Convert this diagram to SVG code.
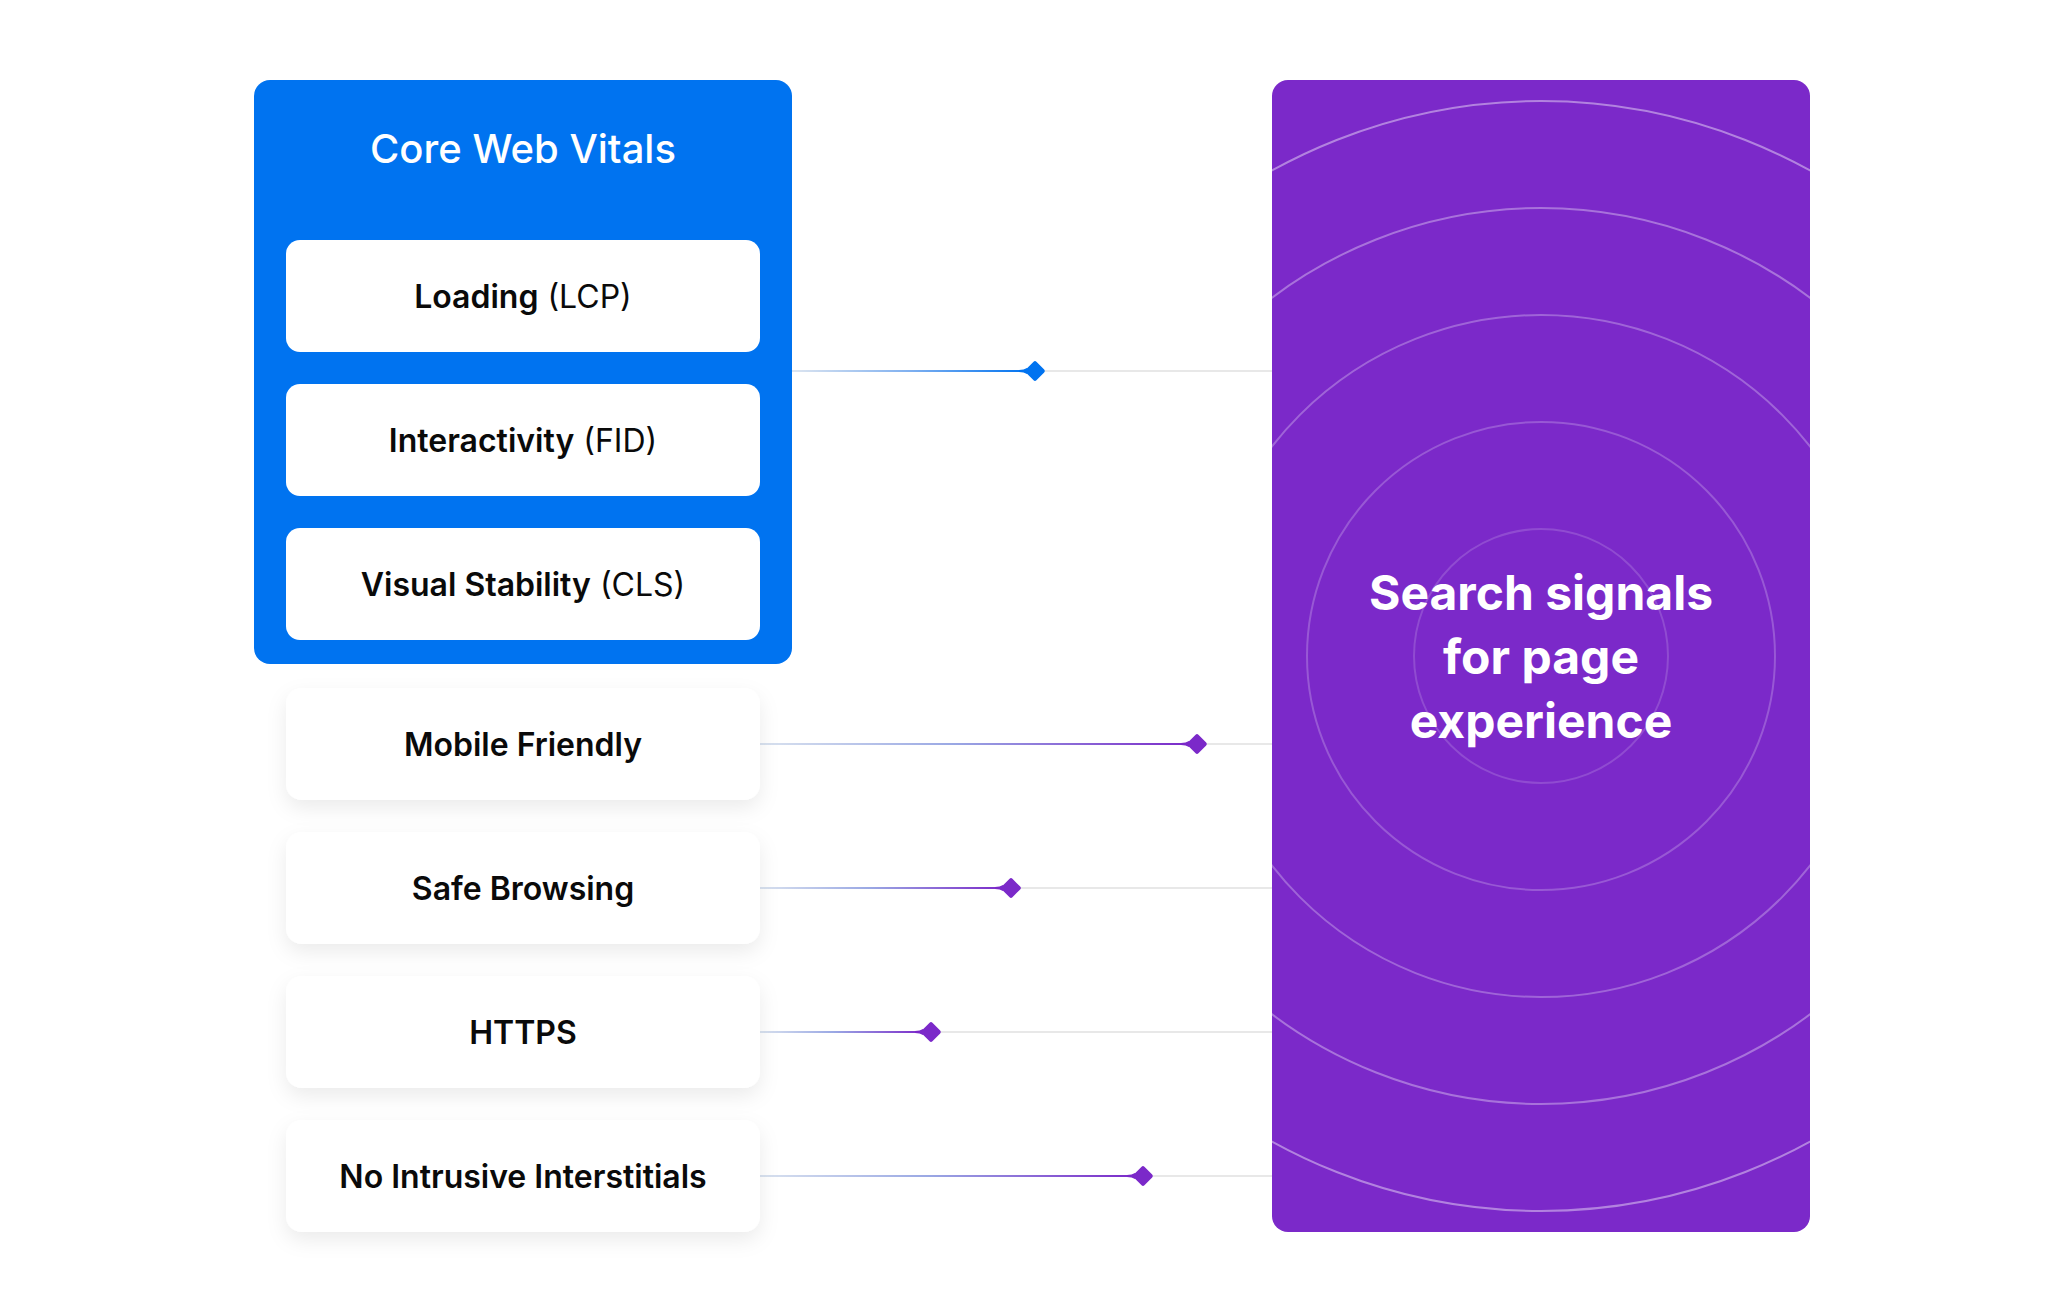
<svg xmlns="http://www.w3.org/2000/svg" width="2062" height="1312" viewBox="0 0 2062 1312">
  <style>
    .lbl { font-family: Inter, "Liberation Sans", sans-serif; font-size: 32px; fill: #0a0a0a; text-anchor: middle; }
    .b { font-weight: 600; }
    .r { font-weight: 400; }
    .title { font-family: Inter, "Liberation Sans", sans-serif; font-size: 40px; font-weight: 500; fill: #ffffff; text-anchor: middle; }
    .big { font-family: Inter, "Liberation Sans", sans-serif; font-size: 48px; font-weight: 700; fill: #ffffff; text-anchor: middle; }
    .inner { fill: #ffffff; }
    .card { fill: #ffffff; filter: url(#shadow); }
    .ring { fill: none; stroke: #ffffff; stroke-width: 2; }
    .track { fill: #e8e8e8; }
  </style>
  <defs>
    <filter id="shadow" x="-20%" y="-40%" width="140%" height="190%">
      <feDropShadow dx="0" dy="8" stdDeviation="10" flood-color="#000000" flood-opacity="0.08"/>
    </filter>
    <linearGradient id="gBlue" x1="0" y1="0" x2="1" y2="0">
      <stop offset="0" stop-color="#dde5f0"/>
      <stop offset="0.5" stop-color="#7fb0f0"/>
      <stop offset="1" stop-color="#0073f0"/>
    </linearGradient>
    <linearGradient id="gPurple" x1="0" y1="0" x2="1" y2="0">
      <stop offset="0" stop-color="#d9e2ef"/>
      <stop offset="0.45" stop-color="#9aa8e4"/>
      <stop offset="1" stop-color="#7b29c9"/>
    </linearGradient>
    <clipPath id="pclip">
      <rect x="1272" y="80" width="538" height="1152" rx="16"/>
    </clipPath>
  </defs>

  <rect width="2062" height="1312" fill="#ffffff"/>

  <!-- connectors -->
  <g id="connectors">
    <g id="c-lcp">
      <rect class="track" x="792" y="370" width="480" height="2"/>
      <rect x="792" y="370" width="236" height="2" fill="url(#gBlue)"/>
      <path d="M1019 370 Q1024 370 1027 368 L1027 374 Q1024 372 1019 372 Z" fill="#0073f0"/>
      <rect x="1027.5" y="363.5" width="15" height="15" rx="2" transform="rotate(45 1035 371)" fill="#0073f0"/>
    </g>
    <g id="c-mobile">
      <rect class="track" x="760" y="743" width="512" height="2"/>
      <rect x="760" y="743" width="430" height="2" fill="url(#gPurple)"/>
      <path d="M1181 743 Q1186 743 1189 741 L1189 747 Q1186 745 1181 745 Z" fill="#7b29c9"/>
      <rect x="1189.5" y="736.5" width="15" height="15" rx="2" transform="rotate(45 1197 744)" fill="#7b29c9"/>
    </g>
    <g id="c-safe">
      <rect class="track" x="760" y="887" width="512" height="2"/>
      <rect x="760" y="887" width="244" height="2" fill="url(#gPurple)"/>
      <path d="M995 887 Q1000 887 1003 885 L1003 891 Q1000 889 995 889 Z" fill="#7b29c9"/>
      <rect x="1003.5" y="880.5" width="15" height="15" rx="2" transform="rotate(45 1011 888)" fill="#7b29c9"/>
    </g>
    <g id="c-https">
      <rect class="track" x="760" y="1031" width="512" height="2"/>
      <rect x="760" y="1031" width="164" height="2" fill="url(#gPurple)"/>
      <path d="M915 1031 Q920 1031 923 1029 L923 1035 Q920 1033 915 1033 Z" fill="#7b29c9"/>
      <rect x="923.5" y="1024.5" width="15" height="15" rx="2" transform="rotate(45 931 1032)" fill="#7b29c9"/>
    </g>
    <g id="c-nii">
      <rect class="track" x="760" y="1175" width="512" height="2"/>
      <rect x="760" y="1175" width="376" height="2" fill="url(#gPurple)"/>
      <path d="M1127 1175 Q1132 1175 1135 1173 L1135 1179 Q1132 1177 1127 1177 Z" fill="#7b29c9"/>
      <rect x="1135.5" y="1168.5" width="15" height="15" rx="2" transform="rotate(45 1143 1176)" fill="#7b29c9"/>
    </g>
  </g>

  <!-- Core Web Vitals group -->
  <g id="core-web-vitals">
    <rect x="254" y="80" width="538" height="584" rx="16" fill="#0073f0"/>
    <text class="title" x="523" y="163">Core Web Vitals</text>
  </g>
  <g id="node-lcp">
    <rect class="inner" x="286" y="240" width="474" height="112" rx="14"/>
    <text class="lbl" x="523" y="308"><tspan class="b">Loading</tspan><tspan class="r"> (LCP)</tspan></text>
  </g>
  <g id="node-fid">
    <rect class="inner" x="286" y="384" width="474" height="112" rx="14"/>
    <text class="lbl" x="523" y="452"><tspan class="b">Interactivity</tspan><tspan class="r"> (FID)</tspan></text>
  </g>
  <g id="node-cls">
    <rect class="inner" x="286" y="528" width="474" height="112" rx="14"/>
    <text class="lbl" x="523" y="596"><tspan class="b">Visual Stability</tspan><tspan class="r"> (CLS)</tspan></text>
  </g>

  <!-- other signals -->
  <g id="node-mobile">
    <rect class="card" x="286" y="688" width="474" height="112" rx="16"/>
    <text class="lbl b" x="523" y="756">Mobile Friendly</text>
  </g>
  <g id="node-safe">
    <rect class="card" x="286" y="832" width="474" height="112" rx="16"/>
    <text class="lbl b" x="523" y="900">Safe Browsing</text>
  </g>
  <g id="node-https">
    <rect class="card" x="286" y="976" width="474" height="112" rx="16"/>
    <text class="lbl b" x="523" y="1044">HTTPS</text>
  </g>
  <g id="node-nii">
    <rect class="card" x="286" y="1120" width="474" height="112" rx="16"/>
    <text class="lbl b" x="523" y="1188">No Intrusive Interstitials</text>
  </g>

  <!-- Search signals -->
  <g id="node-search">
    <rect x="1272" y="80" width="538" height="1152" rx="16" fill="#7b29c9"/>
    <g clip-path="url(#pclip)">
      <circle class="ring" cx="1541" cy="656" r="127" stroke-opacity="0.16"/>
      <circle class="ring" cx="1541" cy="656" r="234" stroke-opacity="0.22"/>
      <circle class="ring" cx="1541" cy="656" r="341" stroke-opacity="0.28"/>
      <circle class="ring" cx="1541" cy="656" r="448" stroke-opacity="0.34"/>
      <circle class="ring" cx="1541" cy="656" r="555" stroke-opacity="0.42"/>
    </g>
    <text class="big" x="1541" y="610">Search signals</text>
    <text class="big" x="1541" y="674">for page</text>
    <text class="big" x="1541" y="738">experience</text>
  </g>
</svg>
